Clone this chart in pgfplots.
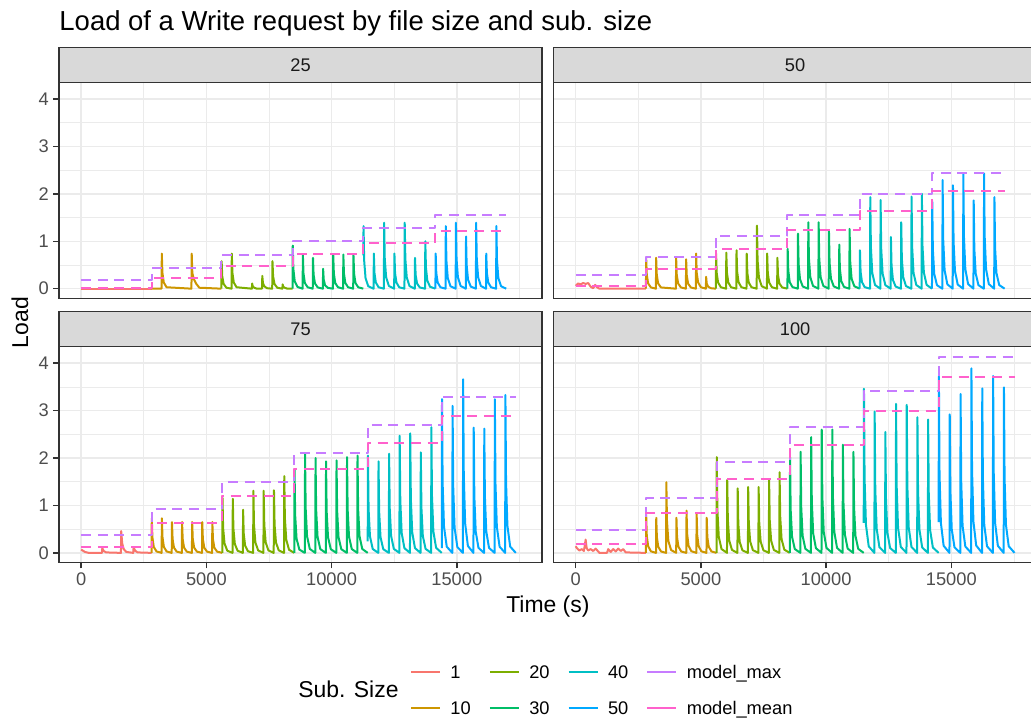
\documentclass[border=0pt]{standalone}
\usepackage{fontspec}
\setmainfont{Liberation Sans}
\usepackage{pgfplots}
\pgfplotsset{compat=1.18}

\definecolor{cA}{HTML}{F8766D}
\definecolor{cB}{HTML}{CD9600}
\definecolor{cC}{HTML}{7CAE00}
\definecolor{cD}{HTML}{00BE67}
\definecolor{cE}{HTML}{00BFC4}
\definecolor{cF}{HTML}{00A9FF}
\definecolor{cmax}{HTML}{C77CFF}
\definecolor{cmean}{HTML}{FF61CC}
\definecolor{gray92}{HTML}{EBEBEB}
\definecolor{gray85}{HTML}{D9D9D9}
\definecolor{gray30}{HTML}{4D4D4D}
\definecolor{gray20}{HTML}{333333}
\definecolor{gray10}{HTML}{1A1A1A}

\newcommand{\ticksize}{\fontsize{13.7}{16}\selectfont}

\pgfplotsset{
  panel/.style={
    scale only axis, width=362.1pt, height=162pt, anchor=south west,
    xmin=-876, xmax=18403, ymin=-0.207, ymax=4.347,
    scaled x ticks=false, scaled y ticks=false,
    xtick={0,5000,10000,15000}, minor xtick={2500,7500,12500,17500},
    ytick={0,1,2,3,4}, minor ytick={0.5,1.5,2.5,3.5},
    xticklabels={}, yticklabels={},
    grid=both,
    major grid style={draw=gray92, line width=1.1pt},
    minor grid style={draw=gray92, line width=0.55pt},
    axis line style={draw=gray20, line width=1.1pt},
    tick align=outside, major tick length=4.3pt, minor tick length=0pt,
    tick style={draw=gray20, line width=1.1pt},
    xtick pos=bottom, ytick pos=left,
    tick label style={font=\ticksize, text=gray30},
    every axis plot/.append style={line width=1.5pt, line join=round},
  },
  model/.style={dash pattern=on 7.5pt off 5pt},
}

\begin{document}
\begin{tikzpicture}

% ---------- 25 ----------
\begin{axis}[panel, at={(44.4pt,316.125pt)}, xtick style={draw=none}, yticklabels={0,1,2,3,4}]
\addplot[cA] coordinates {(0,0) (2813,0)};
\addplot[cB] coordinates {(2813,0) (3211,0) (3221,0.74) (3246,0.33) (3301,0.13) (3411,0.03) (4405,0) (4415,0.74) (4440,0.33) (4500,0.2) (4600,0.1) (4720,0.02) (5600,0)};
\addplot[cC] coordinates {
(5600,0) (5610,0.58) (5635,0.26) (5690,0.10) (5800,0.02)
(6006,0) (6016,0.74) (6041,0.33) (6096,0.13) (6206,0.03)
(6818,0) (6828,0.11) (6853,0.05) (6908,0.02) (7018,0)
(7224,0) (7234,0.27) (7259,0.12) (7314,0.05) (7424,0.01)
(7630,0) (7640,0.58) (7665,0.26) (7720,0.10) (7830,0.02)
(8036,0) (8046,0.09) (8071,0.04) (8126,0.02) (8236,0)
(8440,0)};
\addplot[cD] coordinates {
(8440,0) (8450,0.91) (8475,0.41) (8530,0.155) (8640,0.036)
(8844,0) (8854,0.72) (8879,0.32) (8934,0.12) (9044,0.03)
(9248,0) (9258,0.65) (9283,0.29) (9338,0.11) (9448,0.026)
(9652,0) (9662,0.42) (9687,0.19) (9742,0.07) (9852,0.017)
(10056,0) (10066,0.72) (10091,0.32) (10146,0.12) (10256,0.03)
(10460,0) (10470,0.72) (10495,0.32) (10550,0.12) (10660,0.03)
(10864,0) (10874,0.72) (10899,0.32) (10954,0.12) (11064,0.03)
(11267,0)};
\addplot[cE] coordinates {
(11267,0.7) (11277,1.32) (11302,0.59) (11357,0.22) (11467,0.05)
(11678,0) (11688,0.74) (11713,0.33) (11768,0.13) (11878,0.03)
(12089,0) (12099,1.39) (12124,0.63) (12179,0.24) (12289,0.056)
(12500,0) (12510,0.74) (12535,0.33) (12590,0.13) (12700,0.03)
(12911,0) (12921,1.39) (12946,0.63) (13001,0.24) (13111,0.056)
(13322,0) (13332,0.65) (13357,0.29) (13412,0.11) (13522,0.026)
(13733,0) (13743,1.0) (13768,0.45) (13823,0.17) (13933,0.04)
(14147,0)};
\addplot[cF] coordinates {
(14147,0) (14157,0.74) (14182,0.33) (14237,0.13) (14347,0.03)
(14551,0) (14561,1.32) (14586,0.59) (14641,0.22) (14751,0.05)
(14955,0) (14965,1.39) (14990,0.63) (15045,0.24) (15155,0.056)
(15359,0) (15369,1.1) (15394,0.5) (15449,0.19) (15559,0.044)
(15763,0) (15773,1.39) (15798,0.63) (15853,0.24) (15963,0.056)
(16167,0) (16177,0.74) (16202,0.33) (16257,0.13) (16367,0.03)
(16571,0) (16581,1.32) (16606,0.59) (16661,0.22) (16771,0.05)
(16973,0)};
\addplot[cmax, model] coordinates {(0,0.175) (2813,0.175) (2813,0.43) (5600,0.43) (5600,0.72) (8440,0.72) (8440,0.995) (11267,0.995) (11267,1.275) (14147,1.275) (14147,1.555) (16973,1.555)};
\addplot[cmean, model] coordinates {(0,0.005) (2813,0.005) (2813,0.217) (5600,0.217) (5600,0.47) (8440,0.47) (8440,0.73) (11267,0.73) (11267,0.967) (14147,0.967) (14147,1.21) (16973,1.21)};
\end{axis}

% ---------- 50 ----------
\begin{axis}[panel, at={(415.275pt,316.125pt)}, xtick style={draw=none}, ytick style={draw=none}]
\addplot[cA] coordinates {(0,0.06) (100,0.11) (200,0.09) (300,0.12) (400,0.1) (500,0.12) (600,0.04) (700,0.01) (780,0.08) (850,0.03) (950,0) (2806,0)};
\addplot[cB] coordinates {
(2806,0) (2816,0.65) (2841,0.29) (2896,0.11) (3006,0.026)
(3205,0) (3215,0.65) (3240,0.29) (3295,0.11) (3405,0.026)
(4003,0) (4013,0.65) (4038,0.29) (4093,0.11) (4203,0.026)
(4402,0) (4412,0.62) (4437,0.28) (4492,0.105) (4602,0.025)
(4801,0) (4811,0.74) (4836,0.33) (4891,0.13) (5001,0.03)
(5200,0) (5210,0.25) (5235,0.11) (5290,0.04) (5400,0.01)
(5598,0)};
\addplot[cC] coordinates {
(5598,0) (5608,0.74) (5633,0.33) (5688,0.13) (5798,0.03)
(6006,0) (6016,0.76) (6041,0.34) (6096,0.13) (6206,0.03)
(6414,0) (6424,0.81) (6449,0.36) (6504,0.14) (6614,0.032)
(6822,0) (6832,0.74) (6857,0.33) (6912,0.13) (7022,0.03)
(7230,0) (7240,1.33) (7265,0.6) (7320,0.23) (7430,0.053)
(7638,0) (7648,0.74) (7673,0.33) (7728,0.13) (7838,0.03)
(8046,0) (8056,0.65) (8081,0.29) (8136,0.11) (8246,0.026)
(8457,0)};
\addplot[cD] coordinates {
(8457,0) (8467,0.84) (8492,0.38) (8547,0.14) (8657,0.034)
(8869,0) (8879,1.16) (8904,0.52) (8959,0.2) (9069,0.046)
(9281,0) (9291,1.4) (9316,0.63) (9371,0.24) (9481,0.056)
(9693,0) (9703,1.4) (9728,0.63) (9783,0.24) (9893,0.056)
(10105,0) (10115,1.22) (10140,0.55) (10195,0.21) (10305,0.049)
(10517,0) (10527,0.93) (10552,0.42) (10607,0.16) (10717,0.037)
(10929,0) (10939,1.26) (10964,0.57) (11019,0.21) (11129,0.05)
(11343,0)};
\addplot[cE] coordinates {
(11343,0) (11353,0.81) (11378,0.36) (11433,0.14) (11543,0.032)
(11755,0) (11765,1.93) (11790,0.87) (11845,0.33) (11955,0.077)
(12167,0) (12177,1.87) (12202,0.84) (12257,0.32) (12367,0.075)
(12579,0) (12589,1.09) (12614,0.49) (12669,0.185) (12779,0.044)
(12991,0) (13001,1.4) (13026,0.63) (13081,0.24) (13191,0.056)
(13403,0) (13413,1.94) (13438,0.87) (13493,0.33) (13603,0.078)
(13815,0) (13825,2.0) (13850,0.9) (13905,0.34) (14015,0.08)
(14229,0)};
\addplot[cF] coordinates {
(14229,0) (14239,1.85) (14264,0.83) (14319,0.31) (14429,0.074)
(14643,0) (14653,2.29) (14678,1.03) (14733,0.39) (14843,0.092)
(15057,0) (15067,2.18) (15092,0.98) (15147,0.37) (15257,0.087)
(15471,0) (15481,2.43) (15506,1.09) (15561,0.41) (15671,0.097)
(15885,0) (15895,1.86) (15920,0.84) (15975,0.32) (16085,0.074)
(16299,0) (16309,2.43) (16334,1.09) (16389,0.41) (16499,0.097)
(16713,0) (16723,1.93) (16748,0.87) (16803,0.33) (16913,0.077)
(17128,0)};
\addplot[cmax, model] coordinates {(0,0.29) (2806,0.29) (2806,0.67) (5598,0.67) (5598,1.11) (8457,1.11) (8457,1.55) (11343,1.55) (11343,1.99) (14229,1.99) (14229,2.43) (17128,2.43)};
\addplot[cmean, model] coordinates {(0,0.056) (2806,0.056) (2806,0.42) (5598,0.42) (5598,0.83) (8457,0.83) (8457,1.235) (11343,1.235) (11343,1.635) (14229,1.635) (14229,2.05) (17128,2.05)};
\end{axis}

% ---------- 75 ----------
\begin{axis}[panel, at={(44.4pt,117.975pt)}, xticklabels={0,5000,10000,15000}, yticklabels={0,1,2,3,4}]
\addplot[cA] coordinates {(0,0.07) (150,0.02) (300,0) (830,0) (845,0.1) (900,0.04) (1000,0.01) (1590,0) (1600,0.46) (1640,0.2) (1700,0.08) (1800,0.02) (2080,0) (2095,0.12) (2150,0.05) (2250,0.01) (2811,0)};
\addplot[cB] coordinates {
(2811,0) (2821,0.73) (2846,0.33) (2901,0.124) (3011,0.03)
(3214,0) (3224,0.73) (3249,0.33) (3304,0.124) (3414,0.03)
(3617,0) (3627,0.65) (3652,0.29) (3707,0.11) (3817,0.026)
(4020,0) (4030,0.65) (4055,0.29) (4110,0.11) (4220,0.026)
(4423,0) (4433,0.65) (4458,0.29) (4513,0.11) (4623,0.026)
(4826,0) (4836,0.65) (4861,0.29) (4916,0.11) (5026,0.026)
(5229,0) (5239,0.65) (5264,0.29) (5319,0.11) (5429,0.026)
(5635,0)};
\addplot[cC] coordinates {
(5635,0) (5645,1.16) (5670,0.52) (5725,0.2) (5835,0.046)
(6046,0) (6056,1.14) (6081,0.51) (6136,0.19) (6246,0.046)
(6457,0) (6467,0.91) (6492,0.41) (6547,0.155) (6657,0.036)
(6868,0) (6878,1.31) (6903,0.59) (6958,0.22) (7068,0.052)
(7279,0) (7289,1.31) (7314,0.59) (7369,0.22) (7479,0.052)
(7690,0) (7700,1.32) (7725,0.59) (7780,0.22) (7890,0.053)
(8101,0) (8111,1.62) (8136,0.73) (8191,0.28) (8301,0.065)
(8512,0)};
\addplot[cD] coordinates {
(8512,0) (8522,1.75) (8547,0.79) (8602,0.3) (8712,0.07)
(8931,0) (8941,2.08) (8966,0.94) (9021,0.35) (9131,0.083)
(9350,0) (9360,2.0) (9385,0.9) (9440,0.34) (9550,0.08)
(9769,0) (9779,1.93) (9804,0.87) (9859,0.33) (9969,0.077)
(10188,0) (10198,1.95) (10223,0.88) (10278,0.33) (10388,0.078)
(10607,0) (10617,2.02) (10642,0.91) (10697,0.34) (10807,0.081)
(11026,0) (11036,2.05) (11061,0.92) (11116,0.35) (11226,0.082)
(11443,0)};
\addplot[cE] coordinates {
(11443,0.24) (11453,2.05) (11478,0.92) (11533,0.35) (11643,0.082)
(11865,0) (11875,1.93) (11900,0.87) (11955,0.33) (12065,0.077)
(12287,0) (12297,2.09) (12322,0.94) (12377,0.36) (12487,0.084)
(12709,0) (12719,2.47) (12744,1.11) (12799,0.42) (12909,0.099)
(13131,0) (13141,2.52) (13166,1.13) (13221,0.43) (13331,0.1)
(13553,0) (13563,2.12) (13588,0.95) (13643,0.36) (13753,0.085)
(13975,0) (13985,2.65) (14010,1.19) (14065,0.45) (14175,0.106)
(14400,0)};
\addplot[cF] coordinates {
(14400,0.1) (14410,3.24) (14435,1.46) (14490,0.55) (14600,0.13)
(14822,0) (14832,3.1) (14857,1.4) (14912,0.53) (15022,0.124)
(15244,0) (15254,3.66) (15279,1.65) (15334,0.62) (15444,0.146)
(15666,0) (15676,2.64) (15701,1.19) (15756,0.45) (15866,0.106)
(16088,0) (16098,2.62) (16123,1.18) (16178,0.45) (16288,0.105)
(16510,0) (16520,3.24) (16545,1.46) (16600,0.55) (16710,0.13)
(16932,0) (16942,3.33) (16967,1.5) (17022,0.57) (17132,0.133)
(17357,0)};
\addplot[cmax, model] coordinates {(0,0.38) (2811,0.38) (2811,0.92) (5635,0.92) (5635,1.50) (8512,1.50) (8512,2.10) (11443,2.10) (11443,2.69) (14400,2.69) (14400,3.29) (17357,3.29)};
\addplot[cmean, model] coordinates {(0,0.127) (2811,0.127) (2811,0.626) (5635,0.626) (5635,1.19) (8512,1.19) (8512,1.76) (11443,1.76) (11443,2.31) (14400,2.31) (14400,2.88) (17357,2.88)};
\end{axis}

% ---------- 100 ----------
\begin{axis}[panel, at={(415.275pt,117.975pt)}, xticklabels={0,5000,10000,15000}, ytick style={draw=none}]
\addplot[cA] coordinates {(0,0.14) (50,0.1) (150,0.05) (250,0.08) (330,0.04) (400,0.28) (440,0.1) (500,0.05) (600,0.08) (700,0.04) (800,0.09) (900,0.03) (950,0) (1250,0) (1300,0.08) (1400,0.02) (1500,0.08) (1600,0.03) (1700,0.09) (1800,0.04) (1900,0.08) (2000,0.01) (2806,0)};
\addplot[cB] coordinates {
(2806,0) (2816,0.81) (2841,0.36) (2896,0.14) (3006,0.032)
(3209,0) (3219,0.74) (3244,0.33) (3299,0.13) (3409,0.03)
(3612,0) (3622,1.49) (3647,0.67) (3702,0.25) (3812,0.06)
(4015,0) (4025,0.74) (4050,0.33) (4105,0.13) (4215,0.03)
(4418,0) (4428,0.89) (4453,0.4) (4508,0.15) (4618,0.036)
(4821,0) (4831,0.83) (4856,0.37) (4911,0.14) (5021,0.033)
(5224,0) (5234,0.74) (5259,0.33) (5314,0.13) (5424,0.03)
(5625,0)};
\addplot[cC] coordinates {
(5625,0) (5635,2.02) (5660,0.91) (5715,0.34) (5825,0.081)
(6043,0) (6053,1.54) (6078,0.69) (6133,0.26) (6243,0.062)
(6461,0) (6471,1.36) (6496,0.61) (6551,0.23) (6661,0.054)
(6879,0) (6889,1.39) (6914,0.63) (6969,0.24) (7079,0.056)
(7297,0) (7307,1.39) (7332,0.63) (7387,0.24) (7497,0.056)
(7715,0) (7725,1.54) (7750,0.69) (7805,0.26) (7915,0.062)
(8133,0) (8143,1.70) (8168,0.77) (8223,0.29) (8333,0.068)
(8551,0)};
\addplot[cD] coordinates {
(8551,0) (8561,2.02) (8586,0.91) (8641,0.34) (8751,0.081)
(8973,0) (8983,2.13) (9008,0.96) (9063,0.36) (9173,0.085)
(9395,0) (9405,2.44) (9430,1.1) (9485,0.41) (9595,0.098)
(9817,0) (9827,2.6) (9852,1.17) (9907,0.44) (10017,0.104)
(10239,0) (10249,2.6) (10274,1.17) (10329,0.44) (10439,0.104)
(10661,0) (10671,2.28) (10696,1.03) (10751,0.39) (10861,0.091)
(11083,0) (11093,2.13) (11118,0.96) (11173,0.36) (11283,0.085)
(11503,0)};
\addplot[cE] coordinates {
(11503,0.63) (11513,3.46) (11538,1.56) (11593,0.59) (11703,0.138)
(11930,0) (11940,2.98) (11965,1.34) (12020,0.51) (12130,0.119)
(12357,0) (12367,2.55) (12392,1.15) (12447,0.43) (12557,0.102)
(12784,0) (12794,3.14) (12819,1.41) (12874,0.53) (12984,0.126)
(13211,0) (13221,3.12) (13246,1.4) (13301,0.53) (13411,0.125)
(13638,0) (13648,2.86) (13673,1.29) (13728,0.49) (13838,0.114)
(14065,0) (14075,2.81) (14100,1.26) (14155,0.48) (14265,0.112)
(14495,0)};
\addplot[cF] coordinates {
(14495,0.65) (14505,3.72) (14530,1.67) (14585,0.63) (14695,0.149)
(14928,0) (14938,2.92) (14963,1.31) (15018,0.5) (15128,0.117)
(15361,0) (15371,3.35) (15396,1.51) (15451,0.57) (15561,0.134)
(15794,0) (15804,3.89) (15829,1.75) (15884,0.66) (15994,0.156)
(16227,0) (16237,3.47) (16262,1.56) (16317,0.59) (16427,0.139)
(16660,0) (16670,3.73) (16695,1.68) (16750,0.63) (16860,0.149)
(17093,0) (17103,3.49) (17128,1.57) (17183,0.59) (17293,0.14)
(17527,0)};
\addplot[cmax, model] coordinates {(0,0.49) (2806,0.49) (2806,1.165) (5625,1.165) (5625,1.91) (8551,1.91) (8551,2.66) (11503,2.66) (11503,3.41) (14495,3.41) (14495,4.14) (17527,4.14)};
\addplot[cmean, model] coordinates {(0,0.19) (2806,0.19) (2806,0.84) (5625,0.84) (5625,1.56) (8551,1.56) (8551,2.27) (11503,2.27) (11503,3.0) (14495,3.0) (14495,3.71) (17527,3.71)};
\end{axis}

% facet strips
\foreach \xa/\xb/\ya/\yb/\lab in {44.4/406.5/478.125/504.525/25, 415.275/777.375/478.125/504.525/50, 44.4/406.5/279.975/306.225/75, 415.275/777.375/279.975/306.225/100}{
  \filldraw[fill=gray85, draw=gray20, line width=1.1pt] (\xa pt,\ya pt) rectangle (\xb pt,\yb pt);
  \node[text=gray10, font=\ticksize, inner sep=0pt] at ({(\xa+\xb)/2*1pt},{(\ya+\yb)/2*1pt}) {\lab};
}

% titles
\node[anchor=base west, inner sep=0pt, font=\fontsize{20.6}{24}\selectfont] at (44.4pt,516.75pt) {Load of a Write request by file size and sub. size};
\node[anchor=base, inner sep=0pt, font=\fontsize{17.2}{20}\selectfont] at (410.9pt,80.25pt) {Time (s)};
\node[anchor=base, rotate=90, inner sep=0pt, font=\fontsize{17.2}{20}\selectfont] at (21pt,298.05pt) {Load};
\node[anchor=base west, inner sep=0pt, font=\fontsize{17.2}{20}\selectfont] at (223.5pt,16.6pt) {Sub. Size};

% legend
\begin{axis}[at={(0pt,0pt)}, anchor=south west, scale only axis, width=773.25pt, height=540pt,
  hide axis, xmin=0, xmax=1, ymin=0, ymax=1,
  legend columns=4, legend cell align=left,
  legend image code/.code={\draw[#1, line width=1.6pt] (0pt,0pt) -- (21.75pt,0pt);},
  legend style={at={(0.39767,0.09208)}, anchor=north west, draw=none, fill=none,
    inner sep=0pt, outer sep=0pt, column sep=7pt, row sep=0pt, font=\ticksize,
    /tikz/every even column/.append style={column sep=13.5pt},
    nodes={inner sep=0pt, text height=18.4pt, text depth=8.6pt}}]
\addlegendimage{cA}\addlegendentry{1}
\addlegendimage{cC}\addlegendentry{20}
\addlegendimage{cE}\addlegendentry{40}
\addlegendimage{cmax}\addlegendentry{model\_max}
\addlegendimage{cB}\addlegendentry{10}
\addlegendimage{cD}\addlegendentry{30}
\addlegendimage{cF}\addlegendentry{50}
\addlegendimage{cmean}\addlegendentry{model\_mean}
\end{axis}

\pgfresetboundingbox
\path[use as bounding box] (0pt,0pt) rectangle (773.25pt,540pt);
\end{tikzpicture}
\end{document}
